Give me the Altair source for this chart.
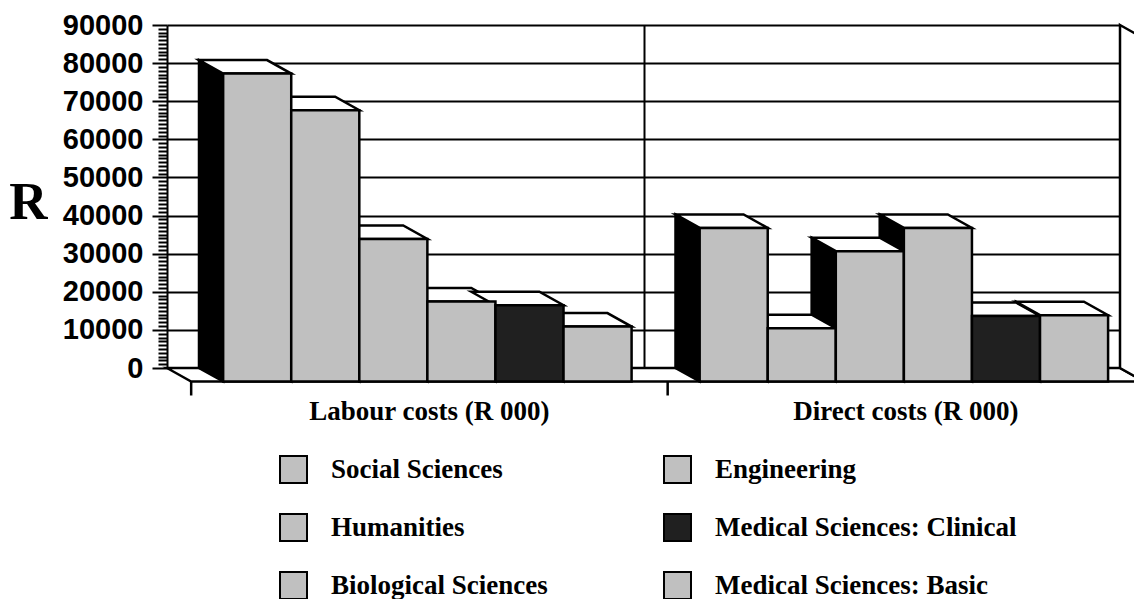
import altair as alt
import pandas as pd

# --- chart values -----------------------------------------------------------
categories = ["Labour costs (R 000)", "Direct costs (R 000)"]
series = [
    "Social Sciences",
    "Humanities",
    "Biological Sciences",
    "Engineering",
    "Medical Sciences: Clinical",
    "Medical Sciences: Basic",
]
labour_costs = [80800, 71200, 37400, 21000, 20000, 14400]
direct_costs = [40300, 14000, 34200, 40300, 17200, 17400]
series_colors = ["#c0c0c0", "#c0c0c0", "#c0c0c0", "#c0c0c0", "#202020", "#c0c0c0"]

# --- 3-D box geometry (x in bar slots, y in rand) ---------------------------
SLOTS = 7            # slots per category: 6 bars + padding
GROUP_PAD = 0.47     # gap before the first bar of a category
DEPTH_X = 0.355      # depth shift to the right, in slots
DEPTH_Y = 3540       # depth shift downwards, in value units
Y_MAX = 90000
X_MAX = SLOTS * len(categories)

side_rows, top_rows, front_rows = [], [], []
for g, (cat, vals) in enumerate(zip(categories, [labour_costs, direct_costs])):
    for i, (name, v) in enumerate(zip(series, vals)):
        bar_id = f"{g}-{i}"
        x0 = SLOTS * g + GROUP_PAD + i
        x1 = x0 + 1
        side_rows += [
            dict(bar=bar_id, px=x0, ytop=v, ybot=0),
            dict(bar=bar_id, px=x0 + DEPTH_X, ytop=v - DEPTH_Y, ybot=-DEPTH_Y),
        ]
        top_rows += [
            dict(bar=bar_id, yv=v, xl=x0, xr=x1),
            dict(bar=bar_id, yv=v - DEPTH_Y, xl=x0 + DEPTH_X, xr=x1 + DEPTH_X),
        ]
        front_rows.append(
            dict(bar=bar_id, series=name, category=cat, value=v,
                 fx0=x0 + DEPTH_X, fx1=x1 + DEPTH_X,
                 fy=v - DEPTH_Y, fy0=-DEPTH_Y)
        )

side_df = pd.DataFrame(side_rows)
top_df = pd.DataFrame(top_rows)
front_df = pd.DataFrame(front_rows)

floor_df = pd.DataFrame([
    dict(yv=0, xl=0, xr=X_MAX),
    dict(yv=-DEPTH_Y, xl=DEPTH_X, xr=X_MAX + DEPTH_X),
])
wall_df = pd.DataFrame([
    dict(px=X_MAX, ytop=Y_MAX, ybot=0),
    dict(px=X_MAX + DEPTH_X, ytop=Y_MAX - DEPTH_Y, ybot=-DEPTH_Y),
])
cat_df = pd.DataFrame([
    dict(category=c, cx=SLOTS * g + SLOTS / 2 + DEPTH_X, cy=-DEPTH_Y)
    for g, c in enumerate(categories)
])
tick_df = pd.DataFrame([
    dict(tx=SLOTS * g + DEPTH_X, ty=-DEPTH_Y) for g in range(len(categories) + 1)
])

# --- shared scales and axes ----------------------------------------------------
x_scale = alt.Scale(domain=[0, X_MAX], nice=False, zero=False)
y_scale = alt.Scale(domain=[0, Y_MAX], nice=False)

MAJOR = "datum.value % 10000 === 0"
x_axis = alt.Axis(
    values=[SLOTS * k for k in range(1, len(categories) + 1)],
    grid=True, gridColor="black", gridWidth=2, gridOpacity=1,
    labels=False, ticks=False, domain=False, title=None,
)
y_axis = alt.Axis(
    values=list(range(0, Y_MAX + 1, 1000)),
    format="d",
    labelExpr=f"{MAJOR} ? datum.label : ''",
    labelOverlap=False, labelFlush=False,
    labelFont="Liberation Sans", labelFontWeight="bold", labelFontSize=29,
    labelColor="black", labelPadding=9,
    domain=True, domainColor="black", domainWidth=2,
    ticks=True, tickColor="black", tickWidth=2,
    tickSize={"condition": {"test": MAJOR, "value": 15}, "value": 9},
    grid=True, gridColor="black", gridWidth=2,
    gridOpacity={"condition": {"test": MAJOR, "value": 1}, "value": 0},
    title="R", titleAngle=0, titleFont="Liberation Serif",
    titleFontWeight="bold", titleFontSize=53, titleColor="black",
    titleAlign="center", titleBaseline="alphabetic", titleX=-139, titleY=193,
)

def X(field):
    return alt.X(f"{field}:Q", scale=x_scale, axis=x_axis, stack=False)

def Y(field):
    return alt.Y(f"{field}:Q", scale=y_scale, axis=y_axis, stack=False)

STROKE = 2.5

floor = alt.Chart(floor_df).mark_area(
    orient="horizontal", fill="white", stroke="black", strokeWidth=STROKE
).encode(x=X("xl"), x2="xr", y=Y("yv"))

right_wall = alt.Chart(wall_df).mark_area(
    orient="vertical", fill="white", stroke="black", strokeWidth=STROKE
).encode(x=X("px"), y=Y("ytop"), y2="ybot")

sides = alt.Chart(side_df).mark_area(
    orient="vertical", fill="black", stroke="black", strokeWidth=STROKE
).encode(x=X("px"), y=Y("ytop"), y2="ybot", detail="bar:N")

tops = alt.Chart(top_df).mark_area(
    orient="horizontal", fill="white", stroke="black", strokeWidth=STROKE
).encode(x=X("xl"), x2="xr", y=Y("yv"), detail="bar:N")

# legend fills column by column: three rows, two columns
fronts = alt.Chart(front_df).mark_rect(
    stroke="black", strokeWidth=STROKE, opacity=1
).encode(
    x=X("fx0"), x2="fx1", y=Y("fy"), y2="fy0",
    color=alt.Color(
        "series:N",
        scale=alt.Scale(domain=series, range=series_colors),
        legend=alt.Legend(
            orient="none", legendX=112, legendY=430, columns=2,
            symbolType="square", symbolSize=729,
            symbolStrokeColor="black", symbolStrokeWidth=2,
            symbolOpacity=1,
            labelFont="Liberation Serif", labelFontWeight="bold",
            labelFontSize=27, labelColor="black", labelOffset=23,
            labelLimit=600, columnPadding=112, rowPadding=23,
            padding=0, title=None,
        ),
    ),
)

cat_ticks = alt.Chart(tick_df).mark_rule(
    color="black", strokeWidth=2.5, y2Offset=14
).encode(x=X("tx"), y=Y("ty"), y2="ty")

cat_labels = alt.Chart(cat_df).mark_text(
    font="Liberation Serif", fontWeight="bold", fontSize=27, color="black",
    baseline="alphabetic", align="center", dy=38.5
).encode(x=X("cx"), y=Y("cy"), text="category:N")

chart = (
    alt.layer(floor, right_wall, sides, tops, fronts, cat_ticks, cat_labels)
    .properties(
        width=953, height=343,
        autosize=alt.AutoSizeParams(type="none"),
        padding={"left": 167, "top": 25, "right": 14, "bottom": 231},
        background="white",
    )
    .configure_view(strokeWidth=0)
)

chart.save("out.html", embed_options={"renderer": "svg", "actions": False})
